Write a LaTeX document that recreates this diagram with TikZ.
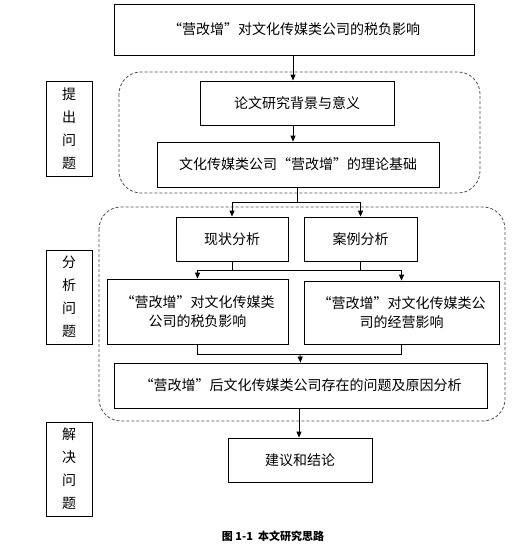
\documentclass[tikz,border=0pt]{standalone}
\usepackage{fontspec}
\newfontfamily\cjk{Noto Sans CJK SC}
\usetikzlibrary{arrows.meta}
\begin{document}
\begin{tikzpicture}[
    x=1pt, y=-1pt,
    >={Triangle[length=6pt,width=5pt]}, % small filled tips
    box/.style={
      rectangle,
      draw=black,
      line width=0.8pt,
      inner sep=0pt,
      align=center,
      font=\cjk\fontsize{14}{19}\selectfont
    },
    sidebox/.style={
      box,
      minimum width=46pt,
      font=\cjk\fontsize{14}{23}\selectfont
    },
    group/.style={
      draw={rgb,255:red,80; green,80; blue,80},
      line width=0.8pt,
      dash pattern=on 3pt off 2pt,
      rounded corners=22pt
    },
    link/.style={line width=0.8pt},
  ]
    \useasboundingbox (0,0) rectangle (512,552);

    % dashed groups
    \draw[group] (119,72) rectangle (480,193);
    \draw[group] (99,207) rectangle (505,421);

    \node[box, minimum width=360pt, minimum height=51pt] (topic) at (294,29.5)
      {“营改增”对文化传媒类公司的税负影响};
    \node[box, minimum width=194pt, minimum height=44pt] (background) at (297,103)
      {论文研究背景与意义};
    \node[box, minimum width=282pt, minimum height=45pt] (theory) at (298,164.5)
      {文化传媒类公司“营改增”的理论基础};
    \node[box, minimum width=112pt, minimum height=44pt] (status) at (232,239)
      {现状分析};
    \node[box, minimum width=113pt, minimum height=44pt] (case) at (360.5,239)
      {案例分析};
    \node[box, minimum width=181pt, minimum height=65pt] (tax) at (197.5,311.5)
      {“营改增”对文化传媒类\\公司的税负影响};
    \node[box, minimum width=195pt, minimum height=63pt] (oper) at (401.5,312.5)
      {“营改增”对文化传媒类公\\司的经营影响};
    \node[box, minimum width=373pt, minimum height=45pt] (problem) at (300.5,385.5)
      {“营改增”后文化传媒类公司存在的问题及原因分析};
    \node[box, minimum width=144pt, minimum height=44pt] (advice) at (300,460)
      {建议和结论};

    % side labels
    \node[sidebox, minimum height=95pt] (raise) at (69,128.5) {提\\出\\问\\题};
    \node[sidebox, minimum height=94pt] (analyse) at (69,297) {分\\析\\问\\题};
    \node[sidebox, minimum height=94pt] (solve) at (69,469) {解\\决\\问\\题};

    \node[font=\cjk\bfseries\fontsize{11}{13}\selectfont] (caption) at (273,536)
      {图 1-1\ \ 本文研究思路};

    % straight arrows
    \draw[link, ->] (topic.south -| 293,0) -- (background.north -| 293,0);
    \draw[link, ->] (background.south -| 293,0) -- (theory.north -| 293,0);
    \draw[link, ->] (problem.south -| 299,0) -- (advice.north -| 299,0);

    % split into the two analyses
    \coordinate (split) at (297,202);
    \draw[link] (theory.south -| split) -- (split);
    \draw[link, ->] (split) -| (status.north);
    \draw[link, ->] (split) -| (case.north);

    % analyses to the two effects
    \coordinate (fork) at (300,270);
    \draw[link] (status.south) -- (status.south |- fork);
    \draw[link] (case.south) -- (case.south |- fork);
    \draw[link, ->] (fork) -| (tax.north);
    \draw[link, ->] (fork) -| (oper.north);

    % effects join into the problem
    \coordinate (join) at (300,354);
    \draw[link] (tax.south) |- (join);
    \draw[link] (oper.south) |- (join);
    \draw[link, ->] (join) -- (problem.north);
  \end{tikzpicture}
\end{document}
